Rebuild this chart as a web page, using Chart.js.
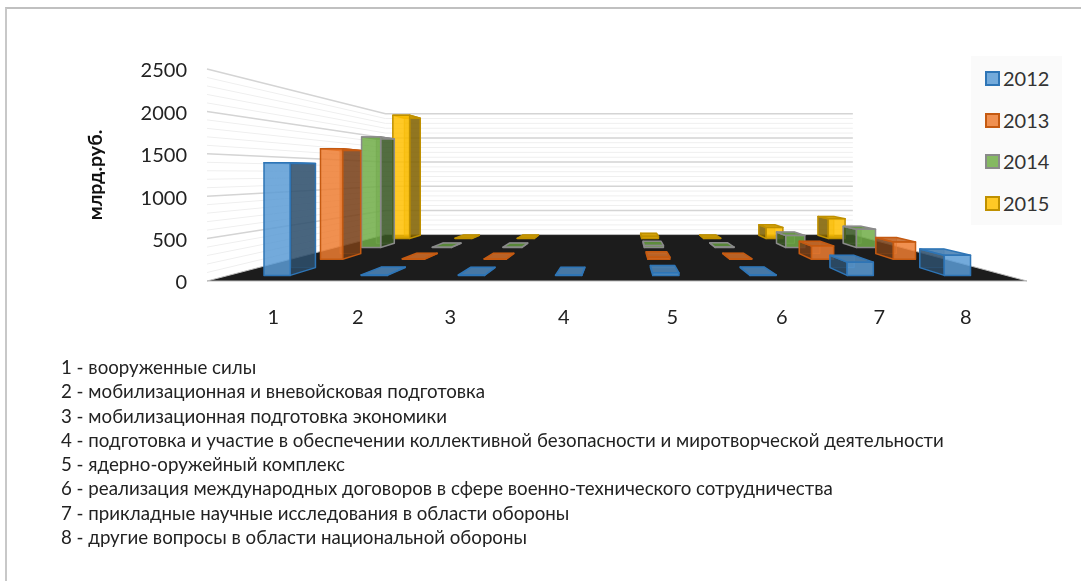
<!DOCTYPE html>
<html>
<head>
<meta charset="utf-8">
<script src="https://cdn.jsdelivr.net/npm/chart.js@4"></script>
<style>
  html, body { margin: 0; padding: 0; background: #fff; }
  #wrap { position: relative; width: 1081px; height: 581px; overflow: hidden; }
  #chart { position: absolute; left: 0; top: 0; }
  #frame { position: absolute; left: 5px; top: 7px; right: -5px; bottom: -5px; border-left: 2px solid #c8c8c8; border-top: 2px solid #c0c0c0; }
  #legend { position: absolute; left: 971px; top: 56px; width: 91px; height: 169px; background: #fafafa;
            font: 20px Lato, sans-serif; color: #333; }
  #legend div { position: absolute; left: 14px; height: 26px; line-height: 26px; white-space: nowrap; }
  #legend i { display: inline-block; width: 11px; height: 11px; border-width: 2px; border-style: solid; margin-right: 3px; }
  #notes { position: absolute; left: 61px; top: 355px; font: 18.7px/24.3px Lato, sans-serif; color: #222; white-space: nowrap; }
</style>
</head>
<body>
<div id="wrap">
  <div id="frame"></div>
  <canvas id="chart" width="1081" height="581"></canvas>
  <div id="legend"></div>
  <div id="notes"></div>
</div>
<script>
const categories = ['1', '2', '3', '4', '5', '6', '7', '8'];
const years = ['2012', '2013', '2014', '2015'];
const values2012 = [1400, 7, 5, 4, 30, 8, 165, 250];
const values2013 = [1630, 7, 6, 0, 30, 8, 195, 255];
const values2014 = [1890, 6, 5, 0, 35, 8, 205, 310];
const values2015 = [2395, 5, 5, 0, 40, 8, 215, 385];
const tickLabels = [0, 500, 1000, 1500, 2000, 2500];
const notes = [
  '1 - вооруженные силы',
  '2 - мобилизационная и вневойсковая подготовка',
  '3 - мобилизационная подготовка экономики',
  '4 - подготовка и участие в обеспечении коллективной безопасности и миротворческой деятельности',
  '5 - ядерно-оружейный комплекс',
  '6 - реализация международных договоров в сфере военно-технического сотрудничества',
  '7 - прикладные научные исследования в области обороны',
  '8 - другие вопросы в области национальной обороны'
];

const fills = ['#5b9bd5', '#ed7d31', '#70ad47', '#ffc000'];
const edges = ['#2e75b6', '#c55a11', '#8a8a8a', '#bf9000'];
const labelNudge = [15, -3, -13, -2, 4, 11, 6, -10];

// perspective: vanishing point, and scale at the back wall
const vpX = 622, vpY = 173, backScale = 0.57;
const barFrac = 0.27, barDepth = 0.115, firstDepth = 0.13, depthStep = 0.262;

function rgba(hex, alpha, k = 1) {
  const n = parseInt(hex.slice(1), 16);
  return `rgba(${(n >> 16) * k | 0},${((n >> 8) & 255) * k | 0},${(n & 255) * k | 0},${alpha})`;
}

function project(x, y, d) {
  const s = 1 / (1 + (1 / backScale - 1) * d);
  return [vpX + (x - vpX) * s, vpY + (y - vpY) * s];
}

function poly(ctx, pts, fill, stroke, width) {
  ctx.beginPath();
  pts.forEach((p, i) => i ? ctx.lineTo(p[0], p[1]) : ctx.moveTo(p[0], p[1]));
  ctx.closePath();
  if (fill) { ctx.fillStyle = fill; ctx.fill(); }
  if (stroke) { ctx.strokeStyle = stroke; ctx.lineWidth = width; ctx.lineJoin = 'round'; ctx.stroke(); }
}

function drawWalls(chart) {
  const { ctx, chartArea: a, scales: { y } } = chart;
  for (let v = 100; v <= y.max; v += 100) {
    const major = v % 500 === 0;
    const py = y.getPixelForValue(v);
    ctx.strokeStyle = major ? '#d4d4d4' : '#efefef';
    ctx.lineWidth = major ? 1.5 : 1;
    const p0 = project(a.left, py, 0), p1 = project(a.left, py, 1), p2 = project(a.right, py, 1);
    ctx.beginPath();
    ctx.moveTo(p0[0], p0[1]);
    ctx.lineTo(p1[0], p1[1]);
    ctx.lineTo(p2[0], p2[1]);
    ctx.stroke();
  }
  const base = y.getPixelForValue(0);
  poly(ctx, [project(a.left, base, 0), project(a.right, base, 0), project(a.right, base, 1), project(a.left, base, 1)],
    '#1c1c1c', '#bdbdbd', 1);
}

function drawBar(chart, ds, i, value) {
  const { ctx, scales: { x, y } } = chart;
  if (!value) return;
  const step = x.getPixelForValue(1) - x.getPixelForValue(0);
  const cx = x.getPixelForValue(i);
  const l = cx - step * barFrac / 2, r = cx + step * barFrac / 2;
  const mid = firstDepth + depthStep * ds;
  const d0 = mid - barDepth / 2, d1 = mid + barDepth / 2;
  const y0 = y.getPixelForValue(0), y1 = y.getPixelForValue(value);
  const fill = fills[ds], edge = edges[ds];
  const side = project(cx, y0, d0)[0] < vpX ? r : l;

  // back face shows through the see-through front
  poly(ctx, [project(l, y0, d1), project(r, y0, d1), project(r, y1, d1), project(l, y1, d1)],
    rgba(fill, 0.35, 0.6), rgba(edge, 0.6), 1);
  poly(ctx, [project(side, y0, d0), project(side, y0, d1), project(side, y1, d1), project(side, y1, d0)],
    rgba(fill, 0.8, 0.5), edge, 1.5);
  poly(ctx, [project(l, y1, d0), project(r, y1, d0), project(r, y1, d1), project(l, y1, d1)],
    rgba(fill, 0.9, 0.85), edge, 1.5);
  poly(ctx, [project(l, y0, d0), project(r, y0, d0), project(r, y1, d0), project(l, y1, d0)],
    rgba(fill, 0.85), edge, 1.5);
}

const perspective = {
  id: 'perspective',
  beforeDatasetsDraw(chart) {
    drawWalls(chart);
    for (let ds = chart.data.datasets.length - 1; ds >= 0; ds--) {
      chart.data.datasets[ds].data.forEach((v, i) => drawBar(chart, ds, i, v));
    }
    const { ctx, scales: { x } } = chart;
    ctx.fillStyle = '#222';
    ctx.font = '20px Lato, sans-serif';
    ctx.textAlign = 'center';
    ctx.textBaseline = 'middle';
    categories.forEach((c, i) => ctx.fillText(c, x.getPixelForValue(i) + labelNudge[i], 318));
    return false;
  }
};

new Chart(document.getElementById('chart'), {
  type: 'bar',
  data: {
    labels: categories,
    datasets: [values2012, values2013, values2014, values2015].map((data, i) => ({
      label: years[i],
      data: data,
      backgroundColor: fills[i],
      borderColor: edges[i]
    }))
  },
  options: {
    responsive: false,
    animation: false,
    layout: { padding: { left: 80, right: 54, top: 69, bottom: 300 } },
    plugins: { legend: { display: false }, tooltip: { enabled: false } },
    scales: {
      x: { display: false },
      y: {
        min: 0,
        max: 2500,
        afterBuildTicks(scale) { scale.ticks = tickLabels.map(v => ({ value: v })); },
        afterFit(scale) { scale.width = 127; },
        grid: { display: false },
        border: { display: false },
        ticks: { color: '#222', font: { size: 20, family: 'Lato, sans-serif' }, padding: 12, labelOffset: 2, callback: v => String(v) },
        title: { display: true, text: 'млрд.руб.', color: '#111', font: { size: 19.5, weight: 'bold', family: 'Lato, sans-serif' } }
      }
    }
  },
  plugins: [perspective]
});

const legend = document.getElementById('legend');
years.forEach((year, i) => {
  const row = document.createElement('div');
  row.style.top = (9 + i * 41.7) + 'px';
  row.innerHTML = `<i style="background:${rgba(fills[i], 0.85)};border-color:${edges[i]}"></i>${year}`;
  legend.appendChild(row);
});
document.getElementById('notes').innerHTML = notes.map(n => `<div>${n}</div>`).join('');
</script>
</body>
</html>
